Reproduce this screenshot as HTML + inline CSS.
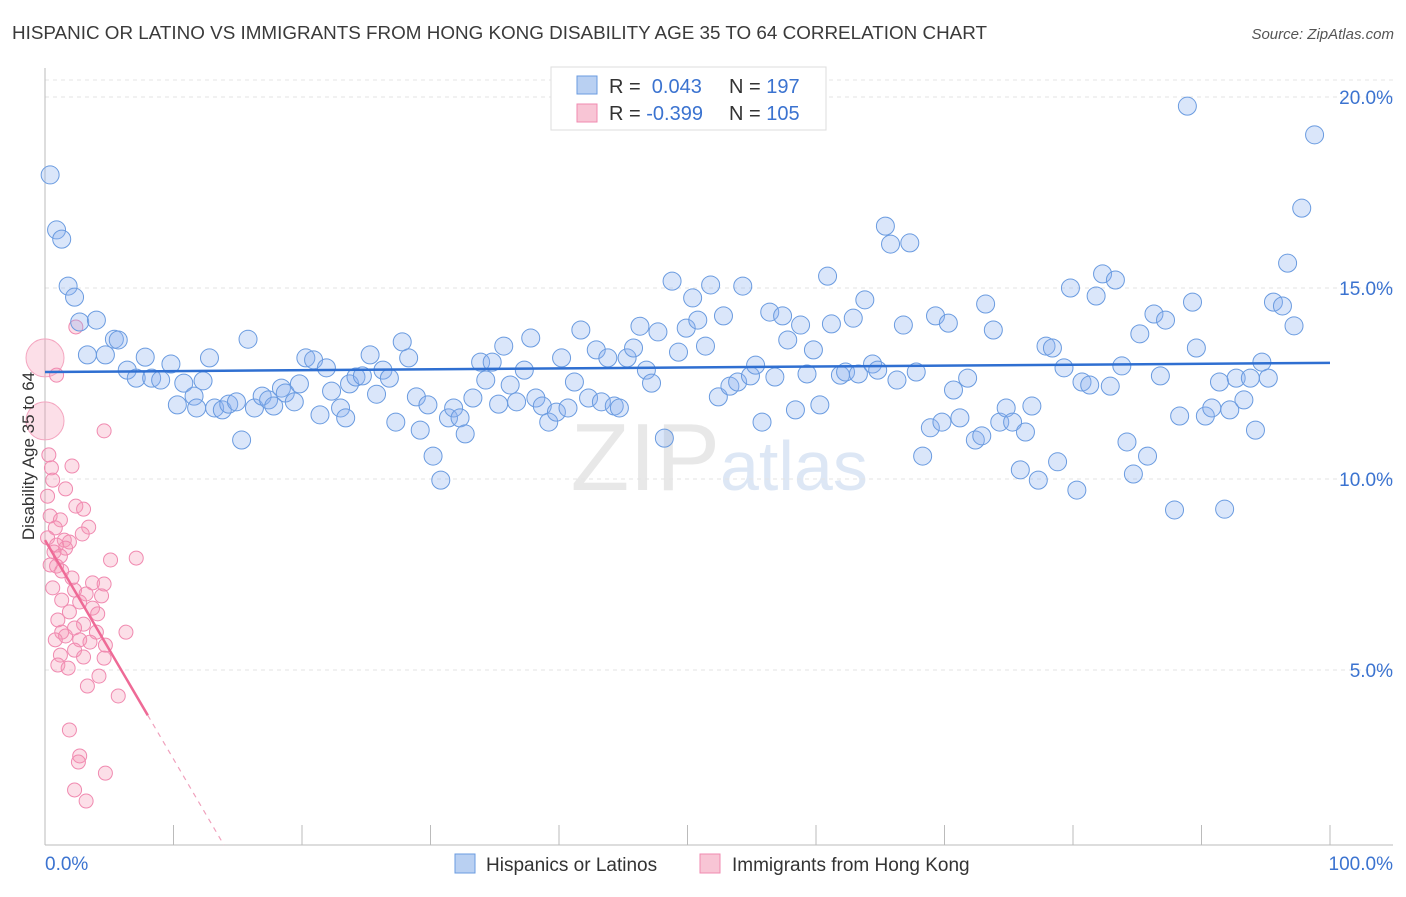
<!DOCTYPE html>
<html><head><meta charset="utf-8">
<style>
body{margin:0;background:#fff;font-family:"Liberation Sans",sans-serif;}
svg text{font-family:"Liberation Sans",sans-serif;}
</style></head>
<body>
<svg id="chart" width="1406" height="892" viewBox="0 0 1406 892" xmlns="http://www.w3.org/2000/svg">
<text x="12" y="39" font-size="18" fill="#3a3a3a" textLength="975" lengthAdjust="spacingAndGlyphs">HISPANIC OR LATINO VS IMMIGRANTS FROM HONG KONG DISABILITY AGE 35 TO 64 CORRELATION CHART</text>
<text x="1394" y="39" font-size="15" fill="#555" font-style="italic" text-anchor="end">Source: ZipAtlas.com</text>
<text x="720" y="490" font-size="96" fill="#e8e8e8" font-family="Liberation Serif" text-anchor="end">ZIP</text>
<text x="720" y="490" font-size="70" fill="#dde7f5">atlas</text>
<g id="grid"></g>
<g id="axes"></g>
<g id="pts"></g>
<g id="trend"></g>
<text transform="translate(34,456) rotate(-90)" font-size="17" fill="#333" text-anchor="middle">Disability Age 35 to 64</text>
<g>
<rect x="551" y="67" width="275" height="63" fill="#fff" stroke="#ddd"/>
<rect x="577" y="76" width="20" height="18" fill="#b9d0f2" stroke="#6a9be0"/>
<rect x="577" y="104" width="20" height="18" fill="#f8c5d5" stroke="#f08ab0"/>
<text x="609" y="93" font-size="20" fill="#333">R = <tspan fill="#3b73d0">&#160;0.043</tspan><tspan x="729">N = </tspan><tspan fill="#3b73d0">197</tspan></text>
<text x="609" y="120" font-size="20" fill="#333">R = <tspan fill="#3b73d0">-0.399</tspan><tspan x="729">N = </tspan><tspan fill="#3b73d0">105</tspan></text>
</g>
<g>
<rect x="455" y="854" width="20" height="19" fill="#b9d0f2" stroke="#6a9be0"/>
<text x="486" y="871" font-size="19" fill="#333">Hispanics or Latinos</text>
<rect x="700" y="854" width="20" height="19" fill="#f8c5d5" stroke="#f08ab0"/>
<text x="732" y="871" font-size="19" fill="#333">Immigrants from Hong Kong</text>
</g>
</svg>
<script>
const yTicks=[5,10,15,20];
const yTickLabels=["5.0%","10.0%","15.0%","20.0%"];
const xTickLabels=["0.0%","100.0%"];
const blueX=[0.4,0.9,1.3,1.8,2.3,2.7,4.0,5.4,5.7,3.3,4.7,7.8,6.4,7.1,8.3,9.0,9.8,10.8,12.3,12.8,15.8,10.3,11.6,11.8,13.2,13.8,14.3,14.9,15.3,16.3,16.9,17.4,17.8,18.4,18.7,19.4,19.8,20.3,20.9,21.4,21.9,22.3,23.0,23.4,23.7,24.2,24.7,25.3,25.8,26.3,26.8,27.3,27.8,28.3,28.9,29.2,29.8,30.2,30.8,31.4,31.8,32.3,32.7,33.3,33.9,34.3,34.8,35.3,35.7,36.2,36.7,37.3,37.8,38.2,38.7,39.2,39.8,40.2,40.7,41.2,41.7,42.3,42.9,43.3,43.8,44.3,44.7,45.3,45.8,46.3,46.8,47.2,47.7,48.2,48.8,49.3,49.9,50.4,50.8,51.4,51.8,52.4,52.8,53.3,53.9,54.3,54.9,55.3,55.8,56.4,56.8,57.4,57.8,58.4,58.8,59.3,59.8,60.3,60.9,61.2,61.9,62.3,62.9,63.3,63.8,64.4,64.8,65.4,65.8,66.3,66.8,67.3,67.8,68.3,68.9,69.3,69.8,70.3,70.7,71.2,71.8,72.4,72.9,73.2,73.8,74.3,74.8,75.3,75.9,76.3,76.8,77.3,77.9,78.4,78.8,79.3,79.8,80.3,80.7,81.3,81.8,82.3,82.9,83.3,83.8,84.2,84.7,85.2,85.8,86.3,86.8,87.2,87.9,88.3,88.9,89.3,89.6,90.3,90.8,91.4,91.8,92.2,92.7,93.3,93.8,94.2,94.7,95.2,95.6,96.3,96.7,97.2,97.8,98.8];
const blueY=[17.96,16.52,16.28,15.05,14.76,14.11,14.16,13.66,13.64,13.25,13.25,13.19,12.85,12.64,12.64,12.59,13.01,12.51,12.57,13.17,13.66,11.94,12.17,11.86,11.86,11.81,11.96,12.02,11.02,11.86,12.17,12.07,11.91,12.38,12.25,12.02,12.49,13.17,13.12,11.68,12.91,12.30,11.86,11.60,12.49,12.67,12.70,13.25,12.22,12.85,12.64,11.49,13.59,13.17,12.15,11.28,11.94,10.60,9.97,11.60,11.86,11.60,11.18,12.12,13.06,12.59,13.06,11.96,13.48,12.46,12.02,12.85,13.69,12.12,11.91,11.49,11.75,13.17,11.86,12.54,13.90,12.12,13.38,12.02,13.17,11.91,11.86,13.17,13.43,14.0,12.85,12.51,13.85,11.07,15.18,13.32,13.95,14.74,14.16,13.48,15.08,12.15,14.27,12.43,12.54,15.05,12.70,12.98,11.49,14.37,12.67,14.27,13.64,11.81,14.03,12.75,13.38,11.94,15.31,14.06,12.72,12.80,14.21,12.75,14.69,13.01,12.85,16.62,16.15,12.59,14.03,16.18,12.80,10.60,11.34,14.27,11.49,14.08,12.33,11.60,12.64,11.02,11.13,14.58,13.90,11.49,11.86,11.49,10.24,11.23,11.91,9.97,13.48,13.43,10.45,12.91,15.0,9.71,12.54,12.46,14.79,15.37,12.43,15.21,12.96,10.97,10.13,13.80,10.60,14.32,12.70,14.16,9.19,11.65,19.76,14.63,13.43,11.65,11.86,12.54,9.21,11.81,12.64,12.07,12.64,11.28,13.06,12.64,14.63,14.53,15.65,14.01,17.09,19.01];
const pinkX=[0.9,2.4,4.6,0.3,2.1,0.5,0.6,1.6,0.2,2.4,3.0,0.4,1.2,3.4,0.8,2.9,0.2,1.5,1.9,0.9,1.6,0.7,1.2,7.1,5.1,0.4,0.9,1.3,2.1,3.7,4.6,0.6,2.3,3.2,4.4,1.3,2.7,3.7,1.9,4.1,1.0,3.0,2.3,1.3,4.0,6.3,1.6,2.7,0.8,4.7,3.5,2.3,1.2,3.0,4.6,1.0,1.8,4.2,3.3,5.7,1.9,2.7,2.6,4.7,2.3,3.2];
const pinkY=[12.72,13.98,11.26,10.63,10.34,10.29,9.97,9.74,9.55,9.29,9.21,9.03,8.93,8.74,8.72,8.56,8.46,8.40,8.35,8.27,8.19,8.09,7.98,7.93,7.88,7.75,7.72,7.59,7.41,7.28,7.25,7.15,7.09,6.99,6.94,6.83,6.78,6.62,6.52,6.47,6.31,6.20,6.10,5.99,5.99,5.99,5.89,5.79,5.79,5.65,5.73,5.52,5.39,5.34,5.31,5.13,5.05,4.84,4.58,4.32,3.43,2.75,2.59,2.30,1.86,1.57];
const pinkBigX=[0,0];
const pinkBigY=[13.17,11.52];
const blueTrend=[12.80,13.04];
const pinkTrend=[8.40,-0.399];

const NS="http://www.w3.org/2000/svg";
const X=v=>45+v*12.85;
const Y=v=>861-v*38.2;
function mk(tag,attrs,parent){const e=document.createElementNS(NS,tag);for(const k in attrs)e.setAttribute(k,attrs[k]);parent.appendChild(e);return e;}
const grid=document.getElementById('grid'),axes=document.getElementById('axes'),pts=document.getElementById('pts'),trend=document.getElementById('trend');
mk('line',{x1:45,x2:1393,y1:80,y2:80,stroke:'#e6e6e6','stroke-dasharray':'4,4'},grid);
yTicks.forEach((t,i)=>{
 const l=mk('line',{x1:45,x2:1393,y1:Y(t),y2:Y(t),stroke:'#e3e3e3','stroke-dasharray':'4,4'},grid);
 
 
 const tx=mk('text',{x:1393,y:Y(t)+7,'font-size':19,fill:'#3b73d0','text-anchor':'end'},axes);
 tx.textContent=yTickLabels[i];
 
 
});
const ax=mk('line',{x1:45,x2:1393,y1:845,y2:845,stroke:'#bbb'},axes);


const ay=mk('line',{x1:45,x2:45,y1:68,y2:845,stroke:'#bbb'},axes);


for(let i=0;i<=10;i++){const t=mk('line',{x1:X(i*10),x2:X(i*10),y1:825,y2:845,stroke:'#bbb'},axes);
 
 }
const xl0=mk('text',{x:45,y:870,'font-size':19,fill:'#3b73d0'},axes);xl0.textContent=xTickLabels[0];


const xl1=mk('text',{x:1393,y:870,'font-size':19,fill:'#3b73d0','text-anchor':'end'},axes);xl1.textContent=xTickLabels[1];


pinkBigX.forEach((v,i)=>{const c=mk('circle',{cx:X(v),cy:Y(pinkBigY[i]),r:19,fill:'rgba(244,150,180,0.3)',stroke:'#f4a6c0','stroke-width':1},pts);
 
 });
pinkX.forEach((v,i)=>{const c=mk('circle',{cx:X(v),cy:Y(pinkY[i]),r:7,fill:'rgba(244,150,180,0.3)',stroke:'#f08ab0','stroke-width':1},pts);
 
 });
blueX.forEach((v,i)=>{const c=mk('circle',{cx:X(v),cy:Y(blueY[i]),r:9,fill:'rgba(140,178,238,0.32)',stroke:'#6a9be0','stroke-width':1},pts);
 
 });
const bt=mk('line',{x1:X(0),x2:X(100),y1:Y(blueTrend[0]),y2:Y(blueTrend[1]),stroke:'#2f6fd1','stroke-width':2.5},trend);


const pf=x=>pinkTrend[0]+pinkTrend[1]*x/0.696;
const ps=mk('line',{x1:X(0),x2:X(8),y1:Y(pf(0)),y2:Y(pf(8)),stroke:'#ee6a96','stroke-width':2.5},trend);


const xEnd=(pinkTrend[0]-16/38.2)/(-pinkTrend[1]/0.696);
const pd=mk('line',{x1:X(8),x2:X(xEnd),y1:Y(pf(8)),y2:845,stroke:'#f0a0bc','stroke-width':1.2,'stroke-dasharray':'5,5'},trend);


</script>
</body></html>
